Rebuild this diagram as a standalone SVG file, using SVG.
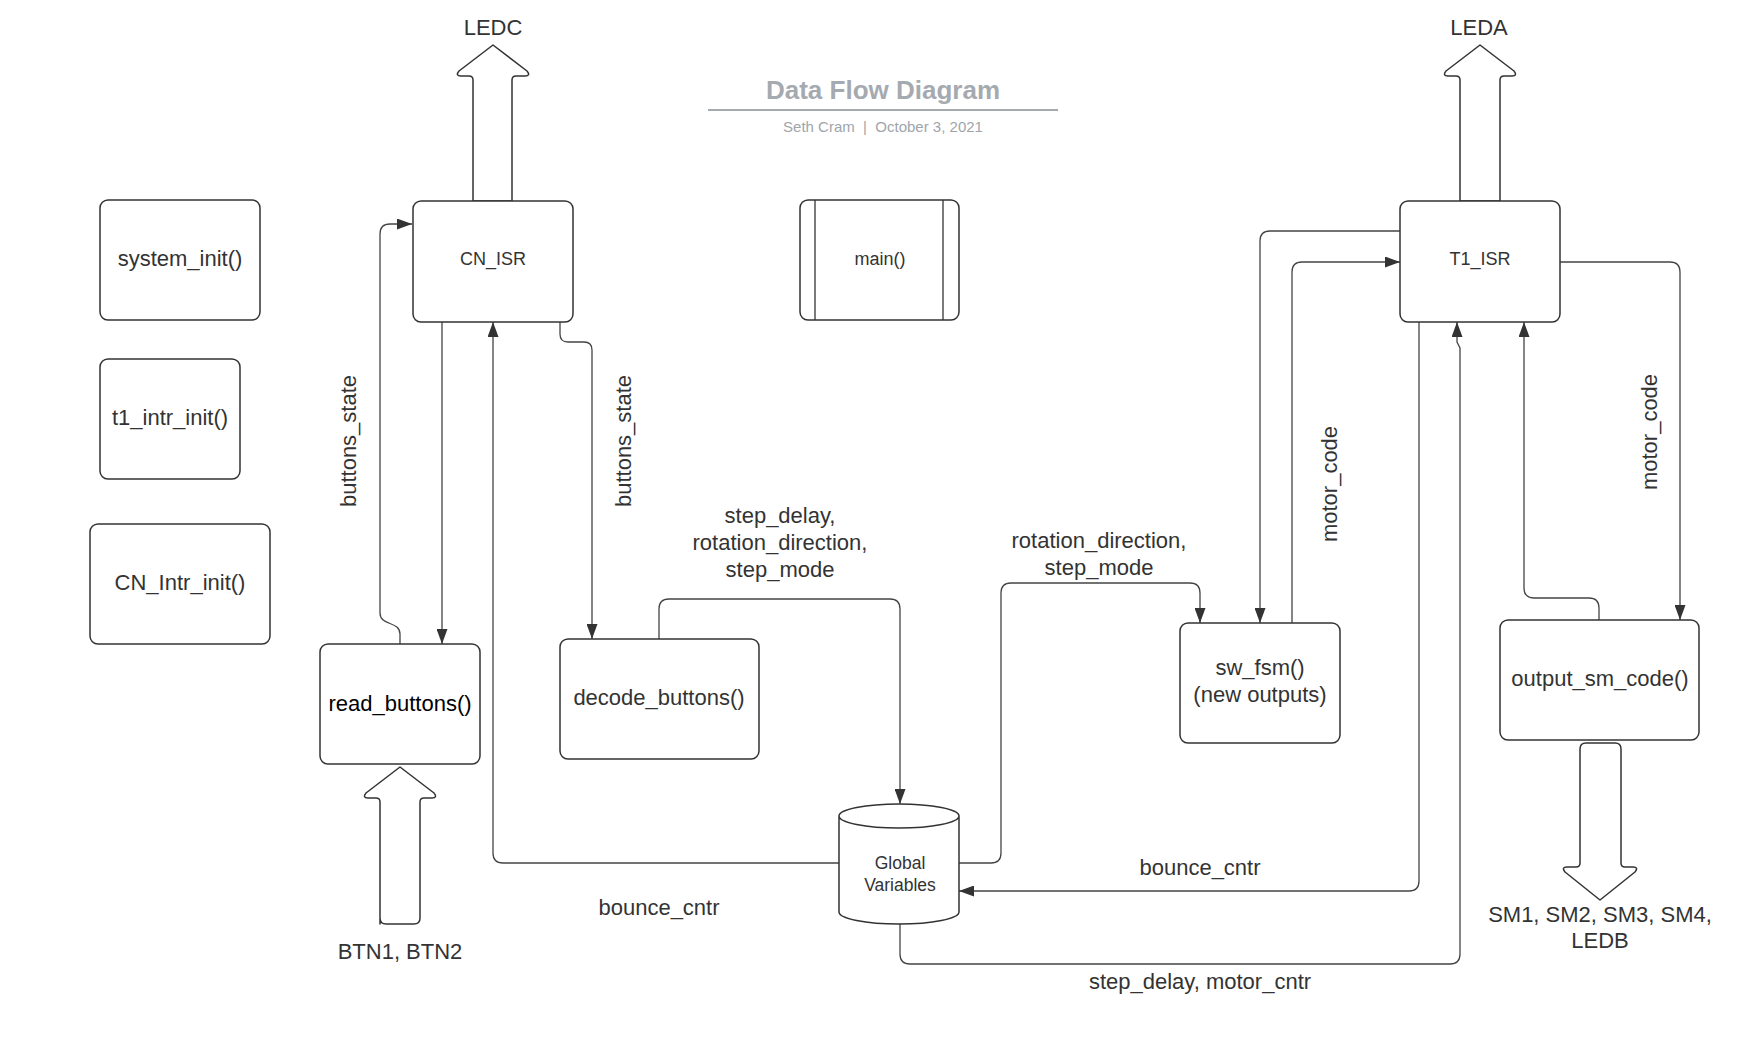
<svg xmlns="http://www.w3.org/2000/svg" width="1760" height="1039" viewBox="0 0 1760 1039">
<defs>
<marker id="ah" viewBox="0 0 15 11" refX="15" refY="5.5" markerWidth="15" markerHeight="11" markerUnits="userSpaceOnUse" orient="auto">
<path d="M0,0 L15,5.5 L0,11 z" fill="#333"/>
</marker>
<style>
.box{fill:#fff;stroke:#333;stroke-width:1.5}
.big{fill:#fff;stroke:#333;stroke-width:1.5;stroke-linejoin:round}
.c{fill:none;stroke:#444;stroke-width:1.3}
.a{marker-end:url(#ah)}
text{font-family:"Liberation Sans",Arial,sans-serif;fill:#333;text-anchor:middle}
.t22{font-size:22px}
.t18{font-size:18px}
.t17{font-size:17.5px}
.title{font-size:26px;font-weight:bold;fill:#a5aab0}
.sub{font-size:15px;fill:#a0a5ab}
</style>
</defs>
<rect width="1760" height="1039" fill="#fff"/>

<g id="title">
<text class="title" x="883" y="99">Data Flow Diagram</text>
<line x1="708" y1="110" x2="1058" y2="110" stroke="#a5aab0" stroke-width="2"/>
<text class="sub" x="883" y="132" xml:space="preserve">Seth Cram  |  October 3, 2021</text>
</g>

<g id="connectors">
<path class="c a" d="M400,644 V634 C400,621 380,626 380,613 V234 Q380,224 390,224 H412"/>
<path class="c a" d="M442,322 V644"/>
<path class="c a" d="M560,322 V334 Q560,342 568,342 H584 Q592,342 592,350 V639"/>
<path class="c a" d="M659,639 V609 Q659,599 669,599 H890 Q900,599 900,609 V804"/>
<path class="c a" d="M839,863 H503 Q493,863 493,853 V322"/>
<path class="c a" d="M959,863 H991 Q1001,863 1001,853 V593 Q1001,583 1011,583 H1190 Q1200,583 1200,593 V623"/>
<path class="c a" d="M1400,231 H1270 Q1260,231 1260,241 V623"/>
<path class="c a" d="M1292,623 V272 Q1292,262 1302,262 H1400"/>
<path class="c a" d="M1560,262 H1670 Q1680,262 1680,272 V620"/>
<path class="c a" d="M1599,620 V608 Q1599,598 1589,598 H1534 Q1524,598 1524,588 V322"/>
<path class="c a" d="M1419,322 V881 Q1419,891 1409,891 H959"/>
<path class="c a" d="M900,924 V954 Q900,964 910,964 H1450 Q1460,964 1460,954 V348 L1457,342 V322"/>
</g>

<g id="arrow-ledc">
<path class="big" d="M473,201 V80 Q473,76 469,76 H461 Q455,76 459,71 L493,45 L527,71 Q531,76 525,76 H516 Q512,76 512,80 V201 Z"/>
<text class="t22" x="493" y="35">LEDC</text>
</g>
<g id="arrow-leda">
<path class="big" d="M1460,201 V80 Q1460,76 1456,76 H1448 Q1442,76 1446,71 L1480,45 L1514,71 Q1518,76 1512,76 H1504 Q1500,76 1500,80 V201 Z"/>
<text class="t22" x="1479" y="35">LEDA</text>
</g>
<g id="arrow-btn">
<path class="big" d="M380,924 V802 Q380,798 376,798 H368 Q362,798 366,793 L400,767 L434,793 Q438,798 432,798 H424 Q420,798 420,802 V918 Q420,924 414,924 H386 Q380,924 380,918 Z"/>
<text class="t22" x="400" y="959">BTN1, BTN2</text>
</g>
<g id="arrow-sm">
<path class="big" d="M1580,749 Q1580,743 1586,743 H1615 Q1621,743 1621,749 V863 Q1621,867 1625,867 H1633 Q1639,867 1635,872 L1600,900 L1565,872 Q1561,867 1567,867 H1576 Q1580,867 1580,863 Z"/>
<text class="t22" x="1600" y="922">SM1, SM2, SM3, SM4,</text>
<text class="t22" x="1600" y="948">LEDB</text>
</g>

<g id="system_init">
<rect class="box" x="100" y="200" width="160" height="120" rx="8"/>
<text class="t22" x="180" y="266">system_init()</text>
</g>
<g id="t1_intr_init">
<rect class="box" x="100" y="359" width="140" height="120" rx="8"/>
<text class="t22" x="170" y="425">t1_intr_init()</text>
</g>
<g id="CN_Intr_init">
<rect class="box" x="90" y="524" width="180" height="120" rx="8"/>
<text class="t22" x="180" y="590">CN_Intr_init()</text>
</g>
<g id="CN_ISR">
<rect class="box" x="413" y="201" width="160" height="121" rx="8"/>
<text class="t18" x="493" y="265">CN_ISR</text>
</g>
<g id="main">
<rect class="box" x="800" y="200" width="159" height="120" rx="8"/>
<line x1="815" y1="200" x2="815" y2="320" stroke="#333" stroke-width="1.3"/>
<line x1="943" y1="200" x2="943" y2="320" stroke="#333" stroke-width="1.3"/>
<text class="t18" x="880" y="265">main()</text>
</g>
<g id="T1_ISR">
<rect class="box" x="1400" y="201" width="160" height="121" rx="8"/>
<text class="t18" x="1480" y="265">T1_ISR</text>
</g>
<g id="read_buttons">
<rect class="box" x="320" y="644" width="160" height="120" rx="8"/>
<text class="t22" x="400" y="711" style="fill:#000">read_buttons()</text>
</g>
<g id="decode_buttons">
<rect class="box" x="560" y="639" width="199" height="120" rx="8"/>
<text class="t22" x="659" y="705">decode_buttons()</text>
</g>
<g id="sw_fsm">
<rect class="box" x="1180" y="623" width="160" height="120" rx="8"/>
<text class="t22" x="1260" y="675">sw_fsm()</text>
<text class="t22" x="1260" y="702">(new outputs)</text>
</g>
<g id="output_sm_code">
<rect class="box" x="1500" y="620" width="199" height="120" rx="8"/>
<text class="t22" x="1600" y="686">output_sm_code()</text>
</g>
<g id="global_variables">
<path class="box" d="M839,816 V912 A60,12 0 0 0 959,912 V816 A60,12 0 0 0 839,816 A60,12 0 0 0 959,816"/>
<text class="t17" x="900" y="869">Global</text>
<text class="t17" x="900" y="891">Variables</text>
</g>

<g id="labels">
<text class="t22" transform="translate(356,441) rotate(-90)">buttons_state</text>
<text class="t22" transform="translate(631,441) rotate(-90)">buttons_state</text>
<text class="t22" transform="translate(1337,484) rotate(-90)">motor_code</text>
<text class="t22" transform="translate(1657,432) rotate(-90)">motor_code</text>
<text class="t22" x="780" y="523">step_delay,</text>
<text class="t22" x="780" y="550">rotation_direction,</text>
<text class="t22" x="780" y="577">step_mode</text>
<text class="t22" x="1099" y="548">rotation_direction,</text>
<text class="t22" x="1099" y="575">step_mode</text>
<text class="t22" x="659" y="915">bounce_cntr</text>
<text class="t22" x="1200" y="875">bounce_cntr</text>
<text class="t22" x="1200" y="989">step_delay, motor_cntr</text>
</g>
</svg>
